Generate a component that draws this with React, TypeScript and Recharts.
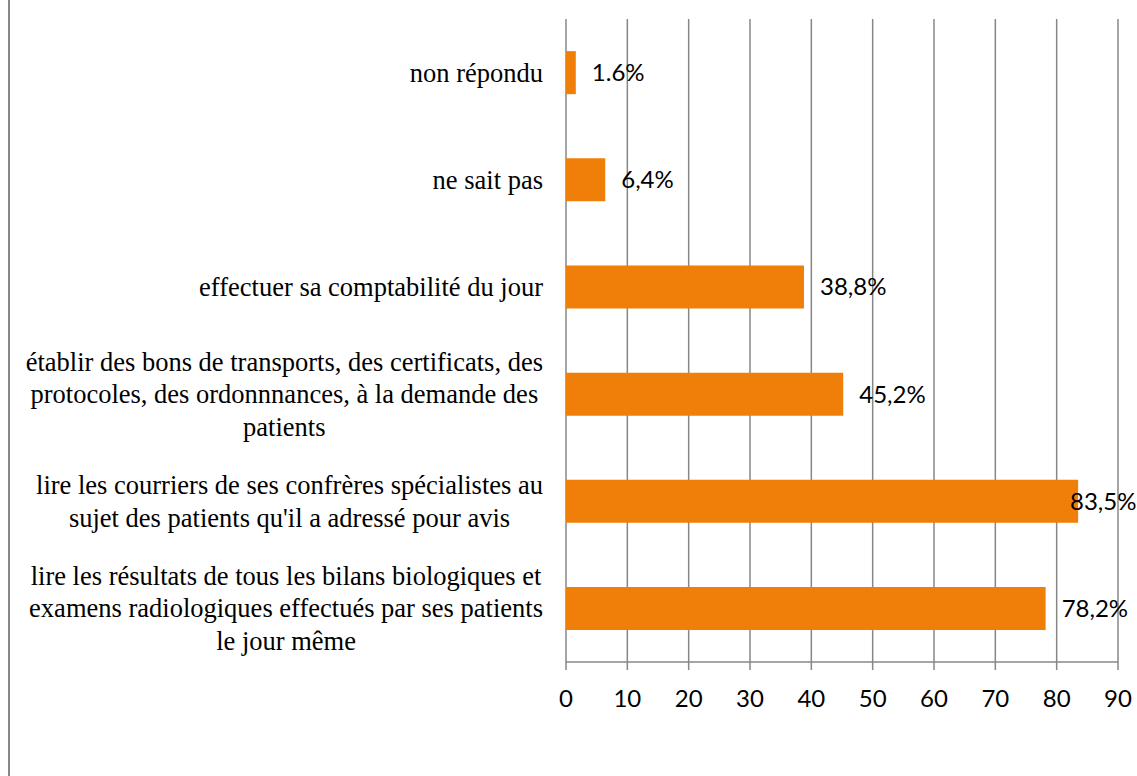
import React from 'react';
import { BarChart, Bar, XAxis, YAxis, CartesianGrid, LabelList } from 'recharts';

// categories, top to bottom
const categories = [
  'non répondu',
  'ne sait pas',
  'effectuer sa comptabilité du jour',
  'établir des bons de transports, des certificats, des\nprotocoles, des ordonnnances, à la demande des\npatients',
  "lire les courriers de ses confrères spécialistes au\nsujet des patients qu'il a adressé pour avis",
  'lire les résultats de tous les bilans biologiques et\nexamens radiologiques effectués par ses patients\nle jour même',
];
const values = [1.6, 6.4, 38.8, 45.2, 83.5, 78.2];
const valueLabels = ['1.6%', '6,4%', '38,8%', '45,2%', '83,5%', '78,2%'];
const xTicks = [0, 10, 20, 30, 40, 50, 60, 70, 80, 90];
const edgeTicks = [0, 1, 2, 3, 4, 5, 6];

const data = categories.map((name, i) => ({ name, value: values[i] }));

const CHART_W = 1127;
const CHART_H = 776;
const GRAY = '#878787';
const ORANGE = '#F07F09';
const CAT_FONT = "'Liberation Serif', 'Times New Roman', Times, serif";
const CAT_SIZE = 26.5;
const LINE_H = 32.5;
const NUM_FONT = "Lato, 'Open Sans', sans-serif";
const NUM_SIZE = 24;

let canvas: HTMLCanvasElement | null = null;
const measure = (text: string, font: string) => {
  if (!canvas) canvas = document.createElement('canvas');
  const ctx = canvas.getContext('2d');
  if (!ctx) return text.length * 12;
  ctx.font = font;
  return ctx.measureText(text).width;
};

const CategoryTick = (props: any) => {
  const { x, y, payload } = props;
  const lines = String(payload.value).split('\n');
  const widths = lines.map((l) => measure(l, `${CAT_SIZE}px ${CAT_FONT}`));
  const blockW = Math.max(...widths);
  const cx = x - 23 - blockW / 2;
  const first = y - ((lines.length - 1) * LINE_H) / 2;
  return (
    <g>
      {lines.map((l, i) => (
        <text
          key={i}
          x={cx}
          y={first + i * LINE_H + 9}
          textAnchor="middle"
          style={{ fontFamily: CAT_FONT, fontSize: CAT_SIZE }}
          fill="#000"
        >
          {l}
        </text>
      ))}
    </g>
  );
};

const renderValueLabel = (props: any) => {
  const { x, y, width, height, index } = props;
  // keep the label inside the chart area, as the original does for the long bar
  const lx = Math.min(x + width + 16, CHART_W - 67);
  return (
    <text
      x={lx}
      y={y + height / 2 + 8.5}
      style={{ fontFamily: NUM_FONT, fontSize: NUM_SIZE }}
      fill="#000"
    >
      {valueLabels[index]}
    </text>
  );
};

export default function App() {
  return (
    <div
      style={{
        position: 'absolute',
        left: 8,
        top: 0,
        width: CHART_W + 2,
        height: CHART_H,
        overflow: 'hidden',
        borderLeft: `2px solid ${GRAY}`,
        boxSizing: 'border-box',
        background: '#fff',
      }}
    >
      <BarChart
        width={CHART_W}
        height={CHART_H}
        data={data}
        layout="vertical"
        margin={{ top: 19, right: 19, left: 0, bottom: 74 }}
        barCategoryGap="30%"
      >
        <CartesianGrid horizontal={false} stroke={GRAY} strokeWidth={1.5} />
        <XAxis
          type="number"
          domain={[0, 90]}
          ticks={xTicks}
          height={40}
          stroke={GRAY}
          strokeWidth={1.5}
          tickSize={8}
          tickMargin={20}
          tick={{ fill: '#000', fontFamily: NUM_FONT, fontSize: NUM_SIZE }}
        />
        {/* category boundaries: tick marks between the bars */}
        <YAxis
          yAxisId="edge"
          type="number"
          domain={[0, 6]}
          ticks={edgeTicks}
          width={0}
          stroke={GRAY}
          strokeWidth={1.5}
          tickSize={8}
          tick={false}
        />
        <YAxis
          yAxisId="cat"
          type="category"
          dataKey="name"
          width={556}
          axisLine={false}
          tickLine={false}
          tickSize={0}
          tickMargin={0}
          interval={0}
          tick={<CategoryTick />}
        />
        <Bar yAxisId="cat" dataKey="value" fill={ORANGE} isAnimationActive={false}>
          <LabelList dataKey="value" content={renderValueLabel} />
        </Bar>
      </BarChart>
    </div>
  );
}
